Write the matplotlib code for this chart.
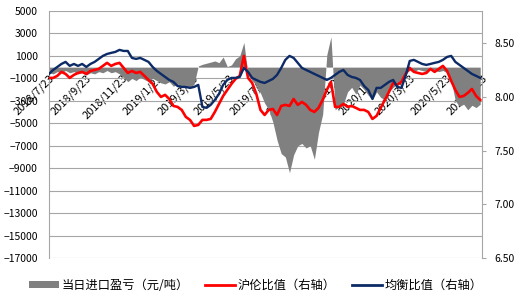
import numpy as np
import pandas as pd
import matplotlib
matplotlib.use("Agg")
import matplotlib.pyplot as plt
from matplotlib.patches import Patch
from matplotlib.lines import Line2D

plt.rcParams['font.family'] = ['Noto Sans CJK SC', 'DejaVu Sans']

# weekly readings, starting 2018/7/23
dates = pd.date_range('2018-07-23', periods=105, freq='7D')

# 当日进口盈亏 (元/吨), left axis
profit = [
    -500, -600, -400, -500, -300, -500, -400, -600, -500, -700,
    -500, -600, -400, -500, -300, -500, -400, -600, -900, -1300,
    -1000, -1200, -900, -1100, -1300, -1000, -1200, -1400, -1500, -1300,
    -1700, -1500, -1800, -1600, -1900, -1500, 100, 250, 350, 450,
    550, 400, 900, 50, 200, 750, 1000, 2200, -700, -1200,
    -1600, -2300, -3200, -3800, -4900, -6500, -7700, -8000, -9400, -7800,
    -7000, -6800, -7200, -7000, -8200, -5800, -4200, 1100, 2700, -3800,
    -3500, -3300, -2200, -1800, -2400, -1600, -2000, -2500, -2900, -2200,
    -2700, -2900, -2200, -1800, -1500, -1200, -500, -300, -400, -200,
    -300, -400, -200, -300, -400, -300, -500, -1200, -3000, -3500,
    -3300, -3800, -3400, -3600, -3300,
]

# 沪伦比值, right axis
ratio = [
    8.177, 8.177, 8.196, 8.233, 8.214, 8.177, 8.205, 8.223, 8.233, 8.214,
    8.242, 8.251, 8.261, 8.289, 8.317, 8.289, 8.307, 8.317, 8.270, 8.223,
    8.242, 8.223, 8.233, 8.196, 8.158, 8.121, 8.047, 8.000, 8.019, 7.981,
    7.916, 7.907, 7.879, 7.814, 7.786, 7.730, 7.739, 7.786, 7.786, 7.795,
    7.860, 7.935, 8.009, 8.065, 8.121, 8.168, 8.196, 8.382, 8.177, 8.130,
    8.028, 7.879, 7.832, 7.879, 7.888, 7.832, 7.916, 7.926, 7.916, 7.981,
    7.926, 7.953, 7.926, 7.879, 7.860, 7.898, 7.972, 8.065, 8.140, 7.907,
    7.907, 7.935, 7.907, 7.916, 7.898, 7.879, 7.879, 7.860, 7.795, 7.823,
    7.898, 7.972, 8.047, 8.130, 8.112, 8.140, 8.214, 8.270, 8.233, 8.223,
    8.214, 8.223, 8.261, 8.233, 8.261, 8.289, 8.242, 8.149, 8.065, 8.000,
    8.009, 8.037, 8.074, 8.009, 7.972,
]

# 均衡比值, right axis
balance = [
    8.214, 8.251, 8.279, 8.307, 8.326, 8.289, 8.307, 8.289, 8.307, 8.279,
    8.307, 8.326, 8.354, 8.382, 8.400, 8.410, 8.419, 8.438, 8.428, 8.428,
    8.363, 8.354, 8.363, 8.345, 8.326, 8.279, 8.242, 8.214, 8.186, 8.158,
    8.140, 8.102, 8.093, 8.093, 8.084, 8.093, 8.112, 7.907, 7.898, 7.926,
    7.972, 8.028, 8.112, 8.158, 8.177, 8.177, 8.186, 8.270, 8.233, 8.177,
    8.158, 8.140, 8.130, 8.149, 8.168, 8.205, 8.270, 8.345, 8.382, 8.363,
    8.317, 8.270, 8.251, 8.233, 8.214, 8.196, 8.177, 8.158, 8.177, 8.205,
    8.233, 8.251, 8.205, 8.186, 8.177, 8.158, 8.102, 8.065, 7.981, 8.084,
    8.084, 8.112, 8.140, 8.158, 8.093, 8.084, 8.196, 8.335, 8.345, 8.326,
    8.307, 8.298, 8.307, 8.317, 8.326, 8.345, 8.372, 8.382, 8.326, 8.298,
    8.270, 8.242, 8.214, 8.196, 8.177,
]

tick_dates = pd.date_range('2018-07-23', '2020-07-23', freq=pd.DateOffset(months=2))
tick_labels = [f"{d.year}/{d.month}/{d.day}" for d in tick_dates]

legend_labels = ['当日进口盈亏（元/吨）', '沪伦比值（右轴）', '均衡比值（右轴）']

gray = '#808080'
red = '#ff0000'
navy = '#0c2a66'
grid_c = '#a6a6a6'

fig = plt.figure(figsize=(5.22, 2.94), dpi=100)
ax = fig.add_axes([49/522, 1-258/294, 433/522, 247/294])
ax2 = ax.twinx()

ax.fill_between(dates, 0, profit, color=gray, linewidth=0)
ax2.plot(dates, ratio, color=red, linewidth=1.9)
ax2.plot(dates, balance, color=navy, linewidth=1.7)

ax.set_ylim(-17000, 5000)
ax.set_yticks(np.arange(-17000, 5001, 2000))
ax.yaxis.grid(True, color=grid_c, linewidth=0.8)
ax.set_axisbelow(True)
ax.tick_params(axis='y', length=0, labelsize=7.5, pad=8)

ax2.set_ylim(6.5, 8.8)
ax2.set_yticks([6.5, 7.0, 7.5, 8.0, 8.5])
ax2.set_yticklabels([f"{v:.2f}" for v in [6.5, 7.0, 7.5, 8.0, 8.5]])
ax2.tick_params(axis='y', length=3, color=grid_c, labelsize=7.5, pad=6)

# the date axis crosses at 0, so move the spine before setting labels
ax.spines['bottom'].set_position(('data', 0))
ax.spines['bottom'].set_visible(False)
ax.spines['top'].set_visible(False)
ax.spines['right'].set_visible(False)
ax.spines['left'].set_color(grid_c)
for s in ['top', 'bottom', 'left']:
    ax2.spines[s].set_visible(False)
ax2.spines['right'].set_color(grid_c)

ax.set_xlim(pd.Timestamp('2018-07-23'), pd.Timestamp('2020-07-23'))
ax.set_xticks(tick_dates)
ax.set_xticklabels(tick_labels, rotation=45, ha='right', va='top',
                   rotation_mode='anchor', fontsize=8)
ax.tick_params(axis='x', length=0, pad=4)

handles = [
    Patch(facecolor=gray, edgecolor='none'),
    Line2D([], [], color=red, linewidth=2),
    Line2D([], [], color=navy, linewidth=2),
]
fig.legend(handles, legend_labels, loc='lower center', bbox_to_anchor=(0.49, -0.03),
           ncol=3, frameon=False, fontsize=8.8, handlelength=2.5, handleheight=0.5,
           handletextpad=0.2, columnspacing=1.3)

fig.savefig('out.png', dpi=100)
